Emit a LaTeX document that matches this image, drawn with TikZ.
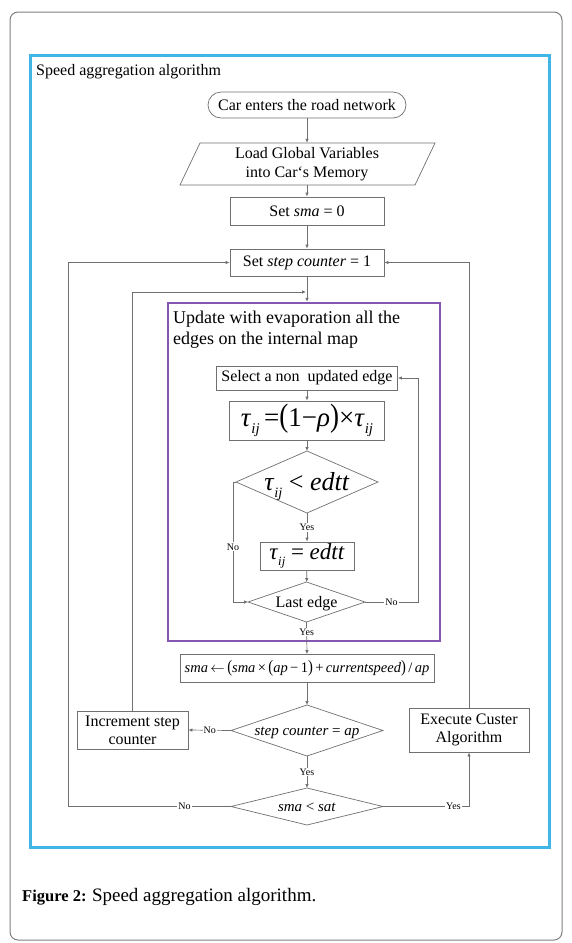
\documentclass[tikz,border=0pt]{standalone}
\usepackage{fontspec}
\usepackage{graphicx}
\setmainfont{Liberation Serif}
\usetikzlibrary{shapes.geometric,arrows.meta,calc}
\definecolor{bluebox}{HTML}{40B6E6}
\definecolor{purplebox}{HTML}{8356B0}
\definecolor{linegray}{HTML}{707070}
\newcommand\fsz[2]{\fontsize{#1}{#2}\selectfont}
\newcommand\tauij{\textit{τ}\raisebox{-0.28em}{\scalebox{0.55}{\textit{ij}}}}
\newcommand\zt[1]{\makebox[0pt]{\smash{\raisebox{-0.33em}{#1}}}}
\newcommand\bigp[1]{\scalebox{1}[1.2]{#1}}
\begin{document}
\begin{tikzpicture}[x=1pt,y=-1pt,
  line/.style={draw=linegray, line width=0.7pt},
  arr/.style={line, -{Latex[length=4pt,width=3.5pt]}},
  box/.style={draw=linegray, line width=0.7pt, fill=white, inner sep=0pt, align=center, font=\fsz{16}{18}},
  dia/.style={draw=linegray, line width=0.7pt, fill=white, diamond, inner sep=0pt, outer sep=0pt},
  lbl/.style={fill=white, inner sep=1pt, font=\fsz{10}{11}}]
\useasboundingbox (0,0) rectangle (572,943);
\draw[draw=black!50, line width=1pt, rounded corners=8pt] (10,12) rectangle (562,940);
\draw[bluebox, line width=3pt] (30,55) rectangle (549,847);
\node[anchor=west, font=\fsz{16}{18}, inner sep=0pt] (title) at (36,72) {Speed aggregation algorithm};

\node[box, rounded corners=13pt, minimum width=198pt, minimum height=26pt] (start) at (307,105) {Car enters the road network};
\node[inner sep=0pt, minimum width=215pt, minimum height=42pt, align=center, font=\fsz{16}{19}] (load) at (307,164) {Load Global Variables\\into Car`s Memory};
\draw[line] (180,185) -- (200,143) -- (435,143) -- (415,185) -- cycle;
\node[box, minimum width=154pt, minimum height=28pt] (sma0) at (307,211) {Set \textit{sma} = 0};
\node[box, minimum width=154pt, minimum height=27pt] (step) at (307,262.5) {Set \textit{step counter} = 1};

\node[draw=purplebox, line width=2.5pt, minimum width=272pt, minimum height=338pt, inner sep=0pt] (upd) at (304,472) {};
\node[anchor=north west, align=left, inner sep=0pt, font=\fsz{18}{21}] (updtxt) at (173,311) {Update with evaporation all the\\edges on the internal map};

\node[box, minimum width=181pt, minimum height=24pt] (sel) at (307,378) {Select a non\ \ updated edge};
\node[box, minimum width=155pt, minimum height=39pt, font=\fsz{27}{29}] (tau) at (307,420.5) {\tauij\,=\bigp{(}1−\textit{ρ}\bigp{)}×\tauij};
\node[dia, minimum width=142pt, minimum height=62pt, font=\fsz{26}{28}] (d1) at (307,482) {\zt{\tauij\ < \textit{edtt}}};
\node[box, minimum width=94pt, minimum height=28pt, font=\fsz{23}{25}] (eq) at (307,556) {\tauij\ = \textit{edtt}};
\node[dia, minimum width=117pt, minimum height=40pt, font=\fsz{16}{18}] (d2) at (306.5,602) {\zt{Last edge}};

\node[box, minimum width=254pt, minimum height=28pt, font=\fsz{14.5}{16}] (sma) at (307,668.5) {\textit{sma}\,$\leftarrow$\,\bigp{(}\textit{sma}\,×\,\bigp{(}\textit{ap}\,−\,1\bigp{)}\,+\,\textit{currentspeed}\bigp{)}\,/\,\textit{ap}};
\node[dia, minimum width=152pt, minimum height=51pt, font=\fsz{15}{17}] (d3) at (307,730.5) {\zt{\textit{step counter} = \textit{ap}}};
\node[box, minimum width=111pt, minimum height=38pt] (inc) at (132.5,730) {Increment step\\counter};
\node[box, minimum width=120pt, minimum height=44pt] (exe) at (469,730) {Execute Custer\\Algorithm};
\node[dia, minimum width=152pt, minimum height=37pt, font=\fsz{15}{17}] (d4) at (307,806.5) {\zt{\textit{sma} < \textit{sat}}};

\coordinate (j1) at (306,292);
\coordinate (rc) at (418,602);
\coordinate (lc) at (68,806.5);
\coordinate (lstub) at (233,482);

\draw[arr] (start) -- (load);
\draw[arr] (load) -- (sma0);
\draw[arr] (sma0) -- (step);
\draw[arr] (step.south) -- (step.south |- upd.north);
\draw[arr] (sel) -- (tau);
\draw[arr] (tau) -- (d1);
\draw[arr] (d1) -- node[lbl]{Yes} (eq);
\draw[arr] (eq) -- (d2);
\draw[arr] (d1.west) -- (lstub) |- node[lbl, pos=0.27]{No} (d2.west);
\draw[arr] (d2.east) -- node[lbl]{No} (rc) |- (sel.east);
\draw[arr] (d2.south) -- node[lbl, pos=0.31]{Yes} (sma.north);
\draw[arr] (sma) -- (d3);
\draw[arr] (d3.west) -- node[lbl]{No} (inc.east);
\draw[arr] (d3) -- node[lbl]{Yes} (d4);
\draw[arr] (inc.north) |- (j1);
\draw[arr] (d4.west) -- node[lbl, pos=0.285]{No} (lc) |- (step.west);
\draw[arr] (d4.east) -- node[lbl, pos=0.82]{Yes} (d4.east -| exe.south) -- (exe.south);
\draw[arr] (exe.north) |- (step.east);

\node[anchor=base west, inner sep=0pt] (cap) at (22,901) {\fsz{16.5}{20}\textbf{Figure 2:} \fsz{19}{21}Speed aggregation algorithm.};
\end{tikzpicture}
\end{document}
